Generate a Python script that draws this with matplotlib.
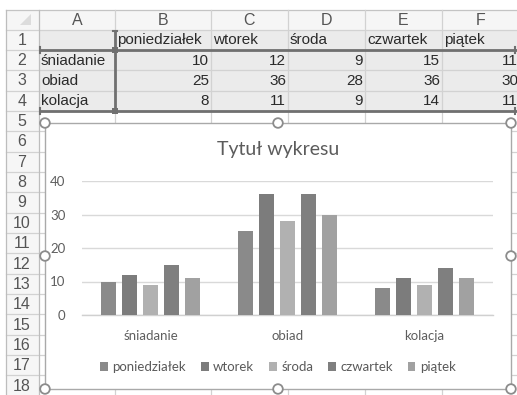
import matplotlib
matplotlib.use("Agg")
import matplotlib.pyplot as plt
from matplotlib.patches import Rectangle, Circle, Polygon
import numpy as np

# --- data -------------------------------------------------------------
meals = ["śniadanie", "obiad", "kolacja"]
days = ["poniedziałek", "wtorek", "środa", "czwartek", "piątek"]
values_by_day = {
    "poniedziałek": [10, 25, 8],
    "wtorek": [12, 36, 11],
    "środa": [9, 28, 9],
    "czwartek": [15, 36, 14],
    "piątek": [11, 30, 11],
}
column_letters = ["A", "B", "C", "D", "E", "F"]
row_numbers = list(range(1, 19))
y_ticks = [0, 10, 20, 30, 40]
chart_title = "Tytuł wykresu"

# --- styles -----------------------------------------------------------
bar_colors = ["#8a8a8a", "#7c7c7c", "#b1b1b1", "#7f7f7f", "#a1a1a1"]
CELL_FONT = "Liberation Sans"
CHART_FONT = "Lato"

W, H = 517, 395
fig = plt.figure(figsize=(W / 100, H / 100), dpi=100)
fig.patch.set_facecolor("white")

# sheet layer in pixel coordinates
sheet = fig.add_axes([0, 0, 1, 1], zorder=0)
sheet.set_xlim(0, W)
sheet.set_ylim(H, 0)
sheet.axis("off")

col_edges = [6, 39, 115, 211, 288, 365, 442, 520]
header_top, header_bottom = 10, 29.5
row_h = 20.35
row_top = lambda r: header_bottom + (r - 1) * row_h

# header backgrounds
sheet.add_patch(Rectangle((6, header_top), W - 6, header_bottom - header_top,
                          facecolor="#f6f6f6", edgecolor="none"))
sheet.add_patch(Rectangle((6, header_bottom), 33, H - header_bottom,
                          facecolor="#f6f6f6", edgecolor="none"))
# shaded data range rows 1-4
sheet.add_patch(Rectangle((39, row_top(1)), W - 39, 4 * row_h,
                          facecolor="#ebebeb", edgecolor="none"))

grid_c = "#d2d2d2"
# horizontal grid lines
for r in range(1, 20):
    y = row_top(r)
    sheet.plot([6, W], [y, y], color=grid_c, lw=0.9)
sheet.plot([6, W], [header_top, header_top], color="#c4c4c4", lw=0.9)
# vertical grid lines
for x in col_edges[:-1]:
    sheet.plot([x, x], [header_top, H], color=grid_c if x > 39 else "#bdbdbd", lw=0.9)

# corner triangle
sheet.add_patch(Polygon([[31, 14], [31, 25], [20, 25]], closed=True,
                        facecolor="#dcdcdc", edgecolor="none"))

# column letters
for i, letter in enumerate(column_letters):
    cx = (col_edges[i + 1] + col_edges[i + 2]) / 2
    sheet.text(cx, (header_top + header_bottom) / 2 + 0.5, letter, ha="center",
               va="center", fontsize=11.5, color="#555555", family=CELL_FONT)
# row numbers
for r in row_numbers:
    sheet.text(22, row_top(r) + row_h / 2 + 0.5, str(r), ha="center", va="center",
               fontsize=11.5, color="#555555", family=CELL_FONT)

# cell contents
CELL_SIZE = 11
for j, day in enumerate(days):
    sheet.text(col_edges[j + 2] + 2, row_top(1) + row_h / 2 + 0.5, day, ha="left",
               va="center", fontsize=CELL_SIZE, color="#2a2a2a", family=CELL_FONT)
for i, meal in enumerate(meals):
    y = row_top(i + 2) + row_h / 2 + 0.5
    sheet.text(col_edges[1] + 2, y, meal, ha="left", va="center", fontsize=CELL_SIZE,
               color="#2a2a2a", family=CELL_FONT)
    for j, day in enumerate(days):
        sheet.text(col_edges[j + 3] - 2, y, str(values_by_day[day][i]), ha="right",
                   va="center", fontsize=CELL_SIZE, color="#2a2a2a", family=CELL_FONT)

# range outlines
sel_c = "#707070"
y_a, y_b = row_top(2), row_top(5)
sheet.plot([40, W], [y_a, y_a], color=sel_c, lw=2, solid_capstyle="butt")
sheet.plot([40, W], [y_b, y_b], color=sel_c, lw=2, solid_capstyle="butt")
sheet.plot([115, 115], [row_top(1) + 1, y_b], color=sel_c, lw=2, solid_capstyle="butt")
for yy in (y_a, y_b):
    sheet.plot([40, 40], [yy - 3, yy + 3], color=sel_c, lw=1.5)
    sheet.add_patch(Rectangle((112, yy - 3), 6, 6, facecolor=sel_c, edgecolor="none", zorder=5))
sheet.plot([113, 117], [row_top(1) + 1, row_top(1) + 1], color=sel_c, lw=1.5)
sheet.plot([515, 515], [y_a - 3, y_a + 3], color=sel_c, lw=1.5)
sheet.plot([515, 515], [y_b - 3, y_b + 3], color=sel_c, lw=1.5)

# chart frame
cx0, cy0, cx1, cy1 = 45, 123, 511, 389
sheet.add_patch(Rectangle((cx0, cy0), cx1 - cx0, cy1 - cy0, facecolor="white",
                          edgecolor="#a9a9a9", lw=1.0, zorder=6))
mx, my = (cx0 + cx1) / 2, (cy0 + cy1) / 2
for (hx, hy) in [(cx0, cy0), (mx, cy0), (cx1, cy0), (cx0, my), (cx1, my),
                 (cx0, cy1), (mx, cy1), (cx1, cy1)]:
    sheet.add_patch(Circle((hx, hy), 4.8, facecolor="white", edgecolor="#8c8c8c",
                           lw=1.3, zorder=8))

sheet.text(mx, 150, chart_title, ha="center", va="center", fontsize=14,
           color="#5c5c5c", family=CHART_FONT, zorder=9)

# plot area
px0, px1, py_top, py_bot = 82, 493, 181, 315
ax = fig.add_axes([px0 / W, 1 - py_bot / H, (px1 - px0) / W, (py_bot - py_top) / H],
                  zorder=2)
ax.patch.set_alpha(0)
x = np.arange(len(meals))
bar_w = 0.114
step = 0.153
handles = []
for j, day in enumerate(days):
    b = ax.bar(x + (j - 2) * step, values_by_day[day], width=bar_w,
               color=bar_colors[j], label=day, zorder=3)
    handles.append(b)
ax.set_xlim(-0.5, len(meals) - 0.5)
ax.set_ylim(0, 40)
ax.set_yticks(y_ticks)
ax.yaxis.grid(True, color="#d9d9d9", lw=1.0, zorder=0)
for s in ["top", "right", "left"]:
    ax.spines[s].set_visible(False)
ax.spines["bottom"].set_color("#d0d0d0")
ax.spines["bottom"].set_linewidth(1.0)
ax.set_xticks(x)
ax.set_xticklabels(meals, family=CHART_FONT, fontsize=9.5, color="#5e5e5e")
for lab in ax.get_yticklabels():
    lab.set_family(CHART_FONT)
    lab.set_fontsize(9.5)
    lab.set_color("#5e5e5e")
ax.tick_params(axis="x", length=0, pad=11)
ax.tick_params(axis="y", length=0, pad=12)

leg = fig.legend(handles=handles, labels=days, loc="center",
                 bbox_to_anchor=(mx / W, 1 - 367 / H), ncol=5, frameon=False,
                 handlelength=0.6, handleheight=0.6, handletextpad=0.35,
                 columnspacing=1.1, prop={"family": CHART_FONT, "size": 9.5},
                 labelcolor="#5a5a5a")
leg.set_zorder(10)

fig.savefig("out.png", dpi=100, facecolor="white")
